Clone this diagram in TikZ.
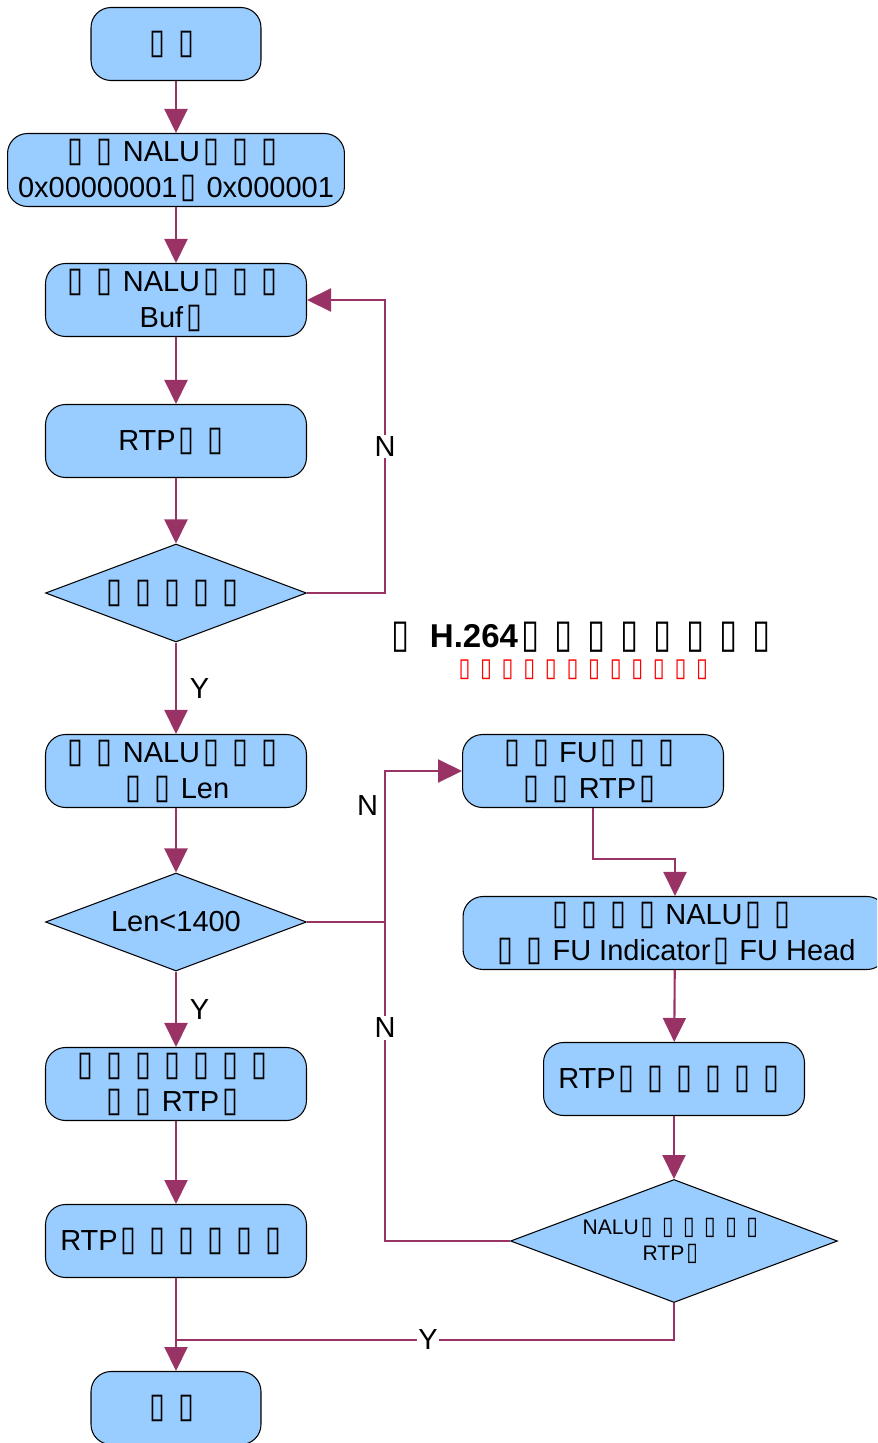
\documentclass[tikz,border=0pt]{standalone}
\usepackage{fontspec}
\setmainfont{Liberation Sans}
\newfontfamily\symfont{DejaVu Sans}
\usepackage{graphicx}
\usetikzlibrary{shapes.geometric,arrows.meta}
\definecolor{boxblue}{HTML}{99CCFF}
\definecolor{flowred}{HTML}{993366}
\newcommand{\tf}{\makebox[1em][l]{\hspace{0.1em}\scalebox{1}[1.2]{\symfont ▯}}}

\begin{document}
\begin{tikzpicture}[x=0.02cm,y=-0.02cm,
	every node/.style={font=\fontsize{16.5}{20.5}\selectfont},
	proc/.style={draw,line width=0.6pt,fill=boxblue,rounded corners=0.4cm,align=center,minimum width=5.22cm,minimum height=1.46cm,inner sep=2pt},
	decide/.style={draw,line width=0.6pt,fill=boxblue,diamond,aspect=2.66,align=center,inner sep=0pt,minimum width=5.22cm,minimum height=1.96cm},
	flow/.style={flowred,line width=1.2pt,-{Triangle[width=0.46cm,length=0.48cm]}},
	link/.style={flowred,line width=1.2pt},
	lab/.style={text=black},
	lbl/.style={text=black,fill=white,inner sep=1pt}]
	\clip (0,0) rectangle (877,1443);
	\node[proc,minimum width=3.4cm] (start) at (176,44) {\tf\tf};
	\node[proc,minimum width=6.74cm] (find) at (176,170) {\tf\tf{}NALU\tf\tf\tf\\0x00000001\tf{}0x000001};
	\node[proc] (copy) at (176,300) {\tf\tf{}NALU\tf\tf\tf\\Buf\tf};
	\node[proc] (init) at (176,441) {RTP\tf\tf};
	\node[decide] (eof) at (176,593) {\tf\tf\tf\tf\tf};
	\node[proc] (len) at (176,771) {\tf\tf{}NALU\tf\tf\tf\\\tf\tf{}Len};
	\node[decide] (cmp) at (176,922) {Len<1400};
	\node[proc] (single) at (176,1084) {\tf\tf\tf\tf\tf\tf\tf\\\tf\tf{}RTP\tf};
	\node[proc] (send) at (176,1241) {RTP\tf\tf\tf\tf\tf\tf};
	\node[proc,minimum width=3.4cm] (stop) at (176,1408) {\tf\tf};
	\node[proc] (fu) at (593,771) {\tf\tf{}FU\tf\tf\tf\\\tf\tf{}RTP\tf};
	\node[proc,minimum width=8.48cm] (hdr) at (675,933) {\tf\tf\tf\tf{}NALU\tf\tf\\\tf\tf{}FU Indicator\tf{}FU Head};
	\node[proc] (fsend) at (674,1079) {RTP\tf\tf\tf\tf\tf\tf};
	\node[decide,minimum width=6.54cm,minimum height=2.46cm,font=\fontsize{12}{14.8}\selectfont] (last) at (674,1241) {NALU\tf\tf\tf\tf\tf\tf\\RTP\tf};
	\node[font=\bfseries\fontsize{18.8}{22}\selectfont] (title) at (585,637) {\tf\ H.264\tf\tf\tf\tf\tf\tf\tf\tf};
	\node[text=red,font=\fontsize{12.3}{15}\selectfont] (note) at (586,670) {\tf\tf\tf\tf\tf\tf\tf\tf\tf\tf\tf\tf};
	\coordinate (back) at (385,300);
	\coordinate (split) at (385,922);
	\coordinate (up) at (385,771);
	\coordinate (join) at (176,1340);
	\draw[flow] (start) -- (find);
	\draw[flow] (find) -- (copy);
	\draw[flow] (copy) -- (init);
	\draw[flow] (init) -- (eof);
	\draw[flow] (eof.east) -| node[lbl,pos=0.75]{N} (back) -- (copy.east);
	\draw[flow] (eof) -- node[lab,right,xshift=4]{Y} (len);
	\draw[flow] (len) -- (cmp);
	\draw[flow] (cmp.east) -- (split) -- node[lab,pos=0.77,left]{N} (up) -- (fu.west);
	\draw[flow] (cmp) -- node[lab,right,xshift=4]{Y} (single);
	\draw[flow] (single) -- (send);
	\draw[flow] (send) -- (stop);
	\draw[flow] (fu.south) -- ++(0,51) -| (hdr.north);
	\draw[flow] (hdr) -- (fsend);
	\draw[flow] (fsend) -- (last);
	\draw[link] (last.west) -| node[lbl,pos=0.834]{N} (split);
	\draw[link] (last.south) |- node[lbl,pos=0.747]{Y} (join);
\end{tikzpicture}
\end{document}
